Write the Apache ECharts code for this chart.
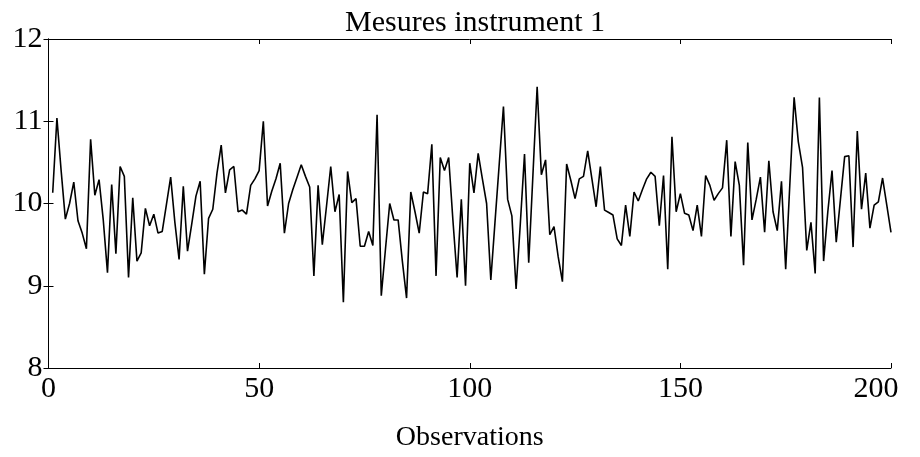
<!DOCTYPE html>
<html>
<head>
<meta charset="utf-8">
<script src="https://cdn.jsdelivr.net/npm/echarts@6/dist/echarts.min.js"></script>
<style>
html,body{margin:0;padding:0;background:#fff;}
#chart{width:920px;height:457px;}
</style>
</head>
<body>
<div id="chart"></div>
<script>
var titre='Mesures instrument 1';
var nomX='Observations';
var ticksX=[0,50,100,150,200];
var ticksY=[8,9,10,11,12];
var mesures=[
10.13,11.04,10.40,9.81,10.00,10.26,9.79,9.64,9.45,10.78,
10.10,10.29,9.80,9.16,10.23,9.39,10.45,10.33,9.10,10.07,
9.30,9.40,9.94,9.73,9.87,9.64,9.66,9.99,10.32,9.77,
9.32,10.21,9.42,9.75,10.09,10.27,9.14,9.82,9.93,10.37,
10.71,10.13,10.41,10.45,9.90,9.92,9.87,10.22,10.30,10.40,
11.00,9.97,10.15,10.30,10.49,9.64,10.00,10.17,10.32,10.47,
10.33,10.20,9.12,10.22,9.50,9.97,10.45,9.90,10.11,8.80,
10.39,10.01,10.06,9.48,9.48,9.66,9.49,11.08,8.88,9.45,
10.00,9.80,9.80,9.30,8.85,10.14,9.90,9.64,10.14,10.12,
10.72,9.12,10.56,10.40,10.56,9.80,9.10,10.05,9.00,10.49,
10.13,10.61,10.30,10.00,9.07,9.78,10.48,11.18,10.05,9.85,
8.96,9.75,10.60,9.28,10.35,11.42,10.35,10.53,9.62,9.72,
9.35,9.05,10.48,10.28,10.06,10.30,10.33,10.64,10.30,9.96,
10.45,9.92,9.89,9.86,9.57,9.49,9.98,9.60,10.14,10.03,
10.17,10.30,10.38,10.33,9.73,10.34,9.20,10.81,9.90,10.12,
9.88,9.86,9.67,9.98,9.60,10.34,10.22,10.04,10.12,10.19,
10.77,9.60,10.51,10.22,9.25,10.74,9.80,10.05,10.32,9.65,
10.52,9.90,9.67,10.27,9.20,10.25,11.29,10.75,10.44,9.43,
9.77,9.15,11.29,9.30,9.90,10.40,9.53,10.05,10.57,10.58,
9.47,10.88,9.93,10.37,9.70,9.98,10.02,10.31,9.98,9.65
];

var police="'Liberation Serif','DejaVu Serif',serif";
var points=[];
for(var i=0;i<mesures.length;i++){
	points.push([i+1,mesures[i]]);
}

var chart=echarts.init(document.getElementById('chart'));
var axeCommun=function(){
	return {
		axisLine:{show:true,lineStyle:{color:'#000',width:1}},
		axisTick:{show:true,inside:true,length:5,lineStyle:{color:'#000'}},
		splitLine:{show:false}
	};
};
var xBas=axeCommun();
xBas.type='value';xBas.min=ticksX[0];xBas.max=ticksX[ticksX.length-1];xBas.interval=50;
xBas.position='bottom';
xBas.axisLabel={
	color:'#000',fontFamily:police,fontSize:30,margin:6,
	formatter:function(v){
		// le dernier label est decale vers la gauche comme sur la figure
		if(v==ticksX[ticksX.length-1]) return '{d|'+v+'}';
		return ''+v;
	},
	rich:{d:{color:'#000',fontFamily:police,fontSize:30,padding:[0,30,0,0]}}
};
xBas.name=nomX;xBas.nameLocation='middle';xBas.nameGap=56;
xBas.nameTextStyle={color:'#000',fontFamily:police,fontSize:28};
var xHaut=axeCommun();
xHaut.type='value';xHaut.min=xBas.min;xHaut.max=xBas.max;xHaut.interval=50;
xHaut.position='top';xHaut.axisLabel={show:false};
var yGauche=axeCommun();
yGauche.type='value';yGauche.min=ticksY[0];yGauche.max=ticksY[ticksY.length-1];yGauche.interval=1;
yGauche.position='left';
yGauche.axisLabel={color:'#000',fontFamily:police,fontSize:30,margin:6};
var yDroite=axeCommun();
yDroite.type='value';yDroite.min=yGauche.min;yDroite.max=yGauche.max;yDroite.interval=1;
yDroite.position='right';yDroite.axisLabel={show:false};

option={
	backgroundColor:'#fff',
	animation:false,
	title:{
		text:titre,
		left:470,
		textAlign:'center',
		top:3,
		textStyle:{color:'#000',fontFamily:police,fontSize:30,fontWeight:'normal'}
	},
	grid:{left:48.5,right:29,top:39,bottom:88,show:false},
	xAxis:[xBas,xHaut],
	yAxis:[yGauche,yDroite],
	series:[{
		type:'line',
		data:points,
		showSymbol:false,
		symbol:'none',
		lineStyle:{color:'#000',width:1.6},
		xAxisIndex:0,
		yAxisIndex:0
	}]
};
chart.setOption(option);
</script>
</body>
</html>
